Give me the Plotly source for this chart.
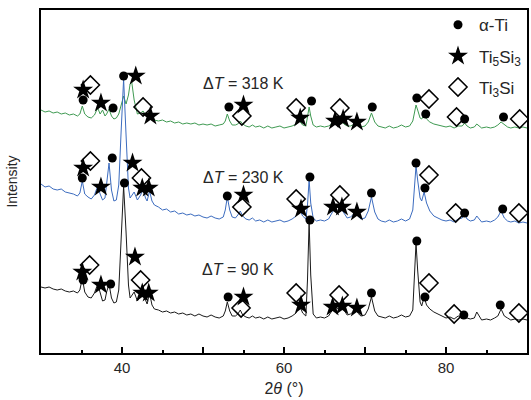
import plotly.graph_objects as go

# ---------------- data ----------------
two_theta = [30.0, 30.5, 31.0, 31.5, 32.0, 32.5, 33.0, 33.5, 34.0, 34.5,
             34.8, 35.1, 35.4, 35.8, 36.2, 36.6, 37.0, 37.3, 37.6, 37.9, 38.1, 38.4, 38.7, 39.0, 39.3, 39.6,
             39.9, 40.2, 40.5, 40.8, 41.0, 41.2, 41.5, 41.9, 42.3, 42.6, 42.9, 43.1, 43.4, 43.7, 44.0,
             44.5, 45.0, 45.5, 46.0, 46.5, 47.0, 47.5, 48.0, 48.5, 49.0, 49.5, 50.0, 50.5, 51.0, 51.5, 52.0, 52.5,
             52.75, 53.0, 53.3, 53.6, 54.0, 54.3, 54.6, 54.9, 55.3,
             55.7, 56.1, 56.5, 57.0, 57.5, 58.0, 58.5, 59.0, 59.5, 60.0, 60.5, 61.0, 61.5,
             61.9, 62.3, 62.7, 62.9, 63.1, 63.3, 63.6, 64.0, 64.5, 65.0, 65.5, 65.9, 66.2, 66.6, 67.0, 67.4,
             67.8, 68.2, 68.5, 68.8, 69.1, 69.5, 70.0, 70.4, 70.8, 71.2, 71.6, 72.0,
             72.5, 73.0, 73.5, 74.0, 74.5, 75.0, 75.5,
             75.9, 76.1, 76.3, 76.5, 76.8, 77.0, 77.3, 77.6, 78.0, 78.5, 79.0,
             79.5, 80.0, 80.5, 81.0, 81.5, 82.0, 82.3, 82.6, 83.0, 83.5, 83.8, 84.1, 84.4, 85.0, 85.5, 86.0,
             86.4, 86.8, 87.2, 87.6, 88.0, 88.5, 89.0, 89.5, 90.0]

int_90K = [66, 65, 66, 64, 63, 64, 62, 61, 62, 60,
           63, 75, 61, 56, 55, 60, 69, 59, 52, 53, 61, 69, 55, 50, 51, 63,
           123, 167, 121, 68, 55, 57, 61, 52, 57, 66, 53, 49, 60, 48, 44,
           43, 41, 42, 40, 41, 39, 40, 38, 39, 37, 39, 37, 36, 38, 36, 35, 37,
           42, 51, 42, 37, 37, 39, 43, 38, 36,
           35, 37, 35, 36, 34, 36, 34, 35, 36, 34, 35, 37, 40,
           48, 40, 37, 73, 131, 78, 39, 35, 36, 35, 37, 42, 48, 44, 50, 43,
           38, 39, 41, 44, 40, 37, 38, 44, 56, 42, 37, 36,
           35, 37, 35, 36, 38, 36, 37,
           43, 78, 110, 83, 51, 47, 56, 48, 44, 41, 39,
           37, 35, 36, 34, 37, 36, 40, 35, 34, 35, 41, 37, 33, 34, 33, 35,
           37, 44, 37, 35, 33, 34, 33, 34, 33]

int_230K = [169, 166, 167, 164, 163, 164, 161, 160, 159, 157,
            160, 172, 159, 156, 154, 158, 167, 159, 153, 155, 168, 190, 163, 152, 153, 168,
            223, 274, 218, 165, 155, 157, 161, 153, 158, 164, 155, 152, 162, 152, 148,
            146, 143, 144, 141, 142, 139, 140, 138, 139, 137, 138, 136, 135, 137, 135, 134, 136,
            143, 156, 143, 136, 135, 138, 142, 137, 134,
            133, 135, 132, 133, 131, 133, 131, 132, 133, 131, 132, 134, 137,
            144, 137, 134, 148, 173, 150, 135, 132, 133, 132, 134, 139, 144, 140, 146, 140,
            135, 136, 138, 141, 137, 134, 135, 142, 156, 141, 134, 132,
            131, 133, 131, 132, 134, 132, 134,
            143, 165, 187, 173, 155, 152, 161, 150, 142, 137, 135,
            133, 132, 133, 131, 134, 135, 139, 134, 132, 133, 137, 134, 131, 132, 131, 133,
            136, 142, 135, 132, 131, 132, 130, 131, 130]

int_318K = [243, 241, 242, 240, 241, 239, 240, 238, 239, 237,
            239, 247, 239, 236, 235, 238, 245, 239, 243, 237, 239, 244, 237, 234, 235, 239,
            248, 257, 249, 258, 269, 271, 253, 239, 240, 242, 238, 236, 239, 235, 233,
            232, 233, 231, 232, 230, 231, 229, 230, 229, 230, 228, 229, 228, 229, 227, 228, 229,
            232, 239, 232, 228, 228, 229, 232, 229, 227,
            226, 228, 226, 227, 225, 227, 225, 226, 227, 225, 226, 227, 229,
            232, 228, 227, 236, 246, 237, 228, 226, 227, 226, 227, 229, 232, 230, 233, 229,
            227, 227, 228, 230, 228, 226, 227, 231, 240, 231, 227, 226,
            225, 227, 225, 226, 228, 226, 227,
            232, 241, 248, 243, 235, 234, 238, 234, 231, 229, 228,
            227, 226, 227, 225, 227, 227, 230, 227, 225, 226, 229, 227, 225, 226, 225, 226,
            228, 231, 228, 226, 225, 226, 225, 226, 225]

# phase markers (2theta, intensity) for the three patterns together
alpha_ti_x = [35.2, 38.9, 40.2, 53.2, 63.4, 70.9, 76.4, 77.5, 82.3, 87.1,
              35.1, 38.8, 53.0, 63.2, 70.8, 76.3, 77.4, 82.3, 87.0,
              35.2, 38.6, 40.3, 53.1, 63.2, 70.8, 76.4, 77.4, 82.2, 86.7]
alpha_ti_y = [253, 245, 277, 246, 252, 246, 255, 239, 234, 236,
              175, 195, 157, 176, 160, 190, 165, 140, 144,
              73, 69, 170, 56, 133, 60, 112, 56, 38, 48]

ti5si3_x = [35.2, 37.4, 41.7, 43.5, 55.0, 62.0, 66.3, 67.3, 69.0,
            35.2, 37.4, 41.3, 42.5, 43.3, 55.0, 62.1, 66.05, 67.15, 69.0,
            35.1, 37.4, 41.6, 42.5, 43.3, 55.0, 62.1, 66.0, 67.2, 69.0]
ti5si3_y = [263, 250, 277, 237, 248, 235, 232, 234, 231,
            185, 166, 190, 165, 165, 158, 144, 146, 146, 141,
            81, 68, 96, 60, 60, 56, 48, 46, 47, 45]

ti3si_x = [36.1, 42.6, 54.8, 61.5, 66.9, 77.9, 81.3, 89.1,
           36.1, 42.4, 54.8, 61.5, 66.9, 77.9, 81.2, 89.0,
           36.0, 42.3, 54.7, 61.5, 66.8, 77.9, 81.0, 89.0]
ti3si_y = [268, 246, 237, 245, 245, 254, 236, 234,
           192, 175, 146, 154, 158, 178, 140, 140,
           88, 73, 45, 60, 58, 70, 39, 40]

series_labels = ["Δ<i>T</i> = 318 K", "Δ<i>T</i> = 230 K", "Δ<i>T</i> = 90 K"]
label_x = [49.8, 49.7, 49.6]
label_y = [270, 176, 84]

x_labelled = [40, 60, 80]
x_unlabelled = [50, 70]
x_minor = [35, 45, 55, 65, 75, 85]

# ---------------- figure ----------------
FONT = "Liberation Sans, Arial, sans-serif"
TXT = "#262626"
fig = go.Figure()

fig.add_trace(go.Scatter(x=two_theta, y=int_318K, mode="lines",
                         line=dict(color="#3f9a52", width=1), showlegend=False, hoverinfo="skip"))
fig.add_trace(go.Scatter(x=two_theta, y=int_230K, mode="lines",
                         line=dict(color="#3c6cbf", width=1), showlegend=False, hoverinfo="skip"))
fig.add_trace(go.Scatter(x=two_theta, y=int_90K, mode="lines",
                         line=dict(color="#1a1a1a", width=1), showlegend=False, hoverinfo="skip"))

fig.add_trace(go.Scatter(x=alpha_ti_x, y=alpha_ti_y, mode="markers", name="α-Ti",
                         legendgroup="a",
                         marker=dict(symbol="circle", size=9, color="black")))
fig.add_trace(go.Scatter(x=ti5si3_x, y=ti5si3_y, mode="markers", name="Ti<sub>5</sub>Si<sub>3</sub>",
                         legendgroup="b",
                         marker=dict(symbol="star", size=15, color="black")))
fig.add_trace(go.Scatter(x=ti3si_x, y=ti3si_y, mode="markers", name="Ti<sub>3</sub>Si",
                         legendgroup="c",
                         marker=dict(symbol="diamond-open", size=14, color="black",
                                     line=dict(width=1.5, color="black"))))

for txt, lx, ly in zip(series_labels, label_x, label_y):
    fig.add_annotation(x=lx, y=ly, text=txt, showarrow=False, xanchor="left", yanchor="middle",
                       font=dict(family=FONT, size=16, color=TXT))

fig.update_layout(
    width=531, height=400,
    margin=dict(l=41, r=2, t=10, b=47),
    paper_bgcolor="white", plot_bgcolor="white",
    font=dict(family=FONT, size=15, color=TXT),
    legend=dict(x=1.0, y=1.008, xanchor="right", yanchor="top",
                font=dict(family=FONT, size=17, color=TXT),
                bgcolor="rgba(0,0,0,0)", tracegroupgap=6, itemwidth=32),
    xaxis=dict(range=[30, 90], showgrid=False, zeroline=False,
               showline=True, linecolor="black", linewidth=2, mirror=True,
               ticks="inside", ticklen=6, tickwidth=1.5, tickcolor="black",
               tickmode="array", tickvals=x_labelled,
               tickfont=dict(family=FONT, size=15, color=TXT),
               minor=dict(tickmode="array", tickvals=x_minor, ticks="inside", ticklen=3,
                          tickwidth=1.5, tickcolor="black"),
               title=dict(text="2<i>θ</i> (°)", font=dict(family=FONT, size=16, color=TXT),
                          standoff=8)),
    xaxis2=dict(range=[30, 90], overlaying="x", side="bottom", showgrid=False, zeroline=False,
                showline=False, showticklabels=False,
                ticks="inside", ticklen=6, tickwidth=1.5, tickcolor="black",
                tickmode="array", tickvals=x_unlabelled),
    yaxis=dict(range=[0, 343], showgrid=False, zeroline=False,
               showline=True, linecolor="black", linewidth=2, mirror=True,
               showticklabels=False, ticks="",
               title=dict(text="Intensity", font=dict(family=FONT, size=14, color=TXT),
                          standoff=18)),
)
# an invisible trace so the second x axis (unlabelled major ticks) is drawn
fig.add_trace(go.Scatter(x=[30, 90], y=[0, 0], xaxis="x2", mode="lines",
                         line=dict(width=0), showlegend=False, hoverinfo="skip"))

fig.write_html("out.html")
